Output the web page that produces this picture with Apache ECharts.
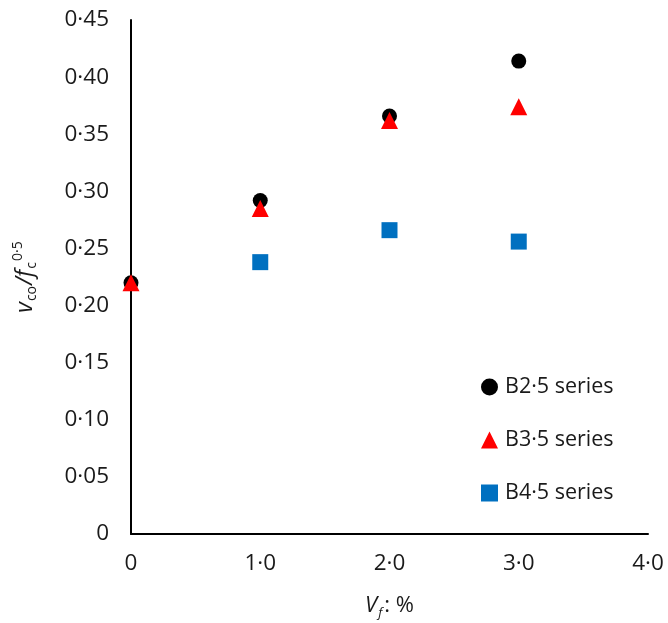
<!DOCTYPE html>
<html>
<head>
<meta charset="utf-8">
<script src="https://cdn.jsdelivr.net/npm/echarts@6/dist/echarts.min.js"></script>
<style>html,body{margin:0;padding:0;background:#fff}#c{width:668px;height:623px}</style>
</head>
<body>
<div id="c"></div>
<script>
const xValues = [0, 1, 2, 3];
const seriesNames = ['B2·5 series', 'B3·5 series', 'B4·5 series'];
const b25 = [0.220, 0.292, 0.366, 0.414];
const b35 = [0.220, 0.285, 0.362, 0.374];
const b45x = [1, 2, 3];
const b45 = [0.238, 0.266, 0.256];

const fmt = (v, d) => v === 0 ? '0' : v.toFixed(d).replace('.', '·');
const FONT = 'Open Sans';
const TXT = '#1a1a1a';

const chart = echarts.init(document.getElementById('c'));
chart.setOption({
  animation: false,
  textStyle: { fontFamily: FONT },
  grid: { left: 131, right: 20, top: 20, bottom: 89, containLabel: false, outerBoundsMode: 'none' },
  legend: {
    orient: 'vertical',
    left: 476,
    top: 370,
    itemWidth: 17,
    itemHeight: 17,
    itemGap: 29,
    textStyle: { fontFamily: FONT, fontSize: 21.5, color: TXT, lineHeight: 24, padding: [0, 0, 0, 2] },
    data: [
      { name: seriesNames[0], icon: 'circle' },
      { name: seriesNames[1], icon: 'triangle' },
      { name: seriesNames[2], icon: 'rect' }
    ]
  },
  xAxis: {
    type: 'value', min: 0, max: 4, interval: 1,
    axisLine: { show: true, lineStyle: { color: '#000', width: 2 } },
    axisTick: { show: false },
    splitLine: { show: false },
    axisLabel: { formatter: v => fmt(v, 1), fontSize: 22.5, color: TXT, margin: 18 },
    name: '{i|V}{sub|f}{n|: %}',
    nameLocation: 'middle',
    nameGap: 57,
    nameTextStyle: {
      rich: {
        i: { fontFamily: FONT, fontSize: 22, fontStyle: 'italic', color: TXT, lineHeight: 30 },
        sub: { fontFamily: FONT, fontSize: 13, fontStyle: 'italic', color: TXT, lineHeight: 30, padding: [14, 2, 0, 1] },
        n: { fontFamily: FONT, fontSize: 22, color: TXT, lineHeight: 30 }
      }
    }
  },
  yAxis: {
    type: 'value', min: 0, max: 0.45, interval: 0.05,
    axisLine: { show: true, lineStyle: { color: '#000', width: 2 } },
    axisTick: { show: false },
    splitLine: { show: false },
    axisLabel: { formatter: v => fmt(v, 2), fontSize: 22.5, color: TXT, margin: 22 },
    name: '{i|v}{sub|co}{i|/f}{sub|c}{sup|0·5}',
    nameLocation: 'middle',
    nameGap: 90,
    nameTextStyle: {
      rich: {
        i: { fontFamily: FONT, fontSize: 23, fontStyle: 'italic', color: TXT, lineHeight: 32 },
        sub: { fontFamily: FONT, fontSize: 14, color: TXT, lineHeight: 32, padding: [14, 1, 0, 1] },
        sup: { fontFamily: FONT, fontSize: 14, color: TXT, lineHeight: 32, padding: [0, 0, 14, 0] }
      }
    }
  },
  series: [
    {
      name: seriesNames[0], type: 'scatter', symbol: 'circle', symbolSize: 15,
      itemStyle: { color: '#000', opacity: 1 }, z: 2,
      data: xValues.map((x, i) => [x, b25[i]])
    },
    {
      name: seriesNames[1], type: 'scatter', symbol: 'triangle', symbolSize: 17,
      itemStyle: { color: '#ff0000', opacity: 1 }, z: 3,
      data: xValues.map((x, i) => [x, b35[i]])
    },
    {
      name: seriesNames[2], type: 'scatter', symbol: 'rect', symbolSize: 16,
      itemStyle: { color: '#0070c0', opacity: 1 }, z: 4,
      data: b45x.map((x, i) => [x, b45[i]])
    }
  ]
});
</script>
</body>
</html>
